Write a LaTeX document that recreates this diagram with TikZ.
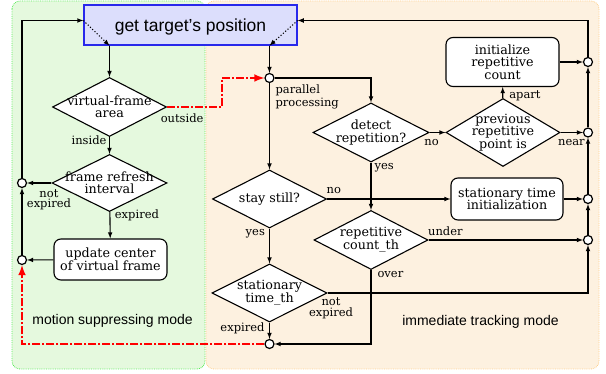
\documentclass[tikz,border=0pt]{standalone}
\usepackage{fontspec}
\setmainfont{DejaVu Serif}
\setsansfont{Liberation Sans}
\usepackage{tikz}
\usetikzlibrary{shapes.geometric, positioning, arrows, calc}

\definecolor{zonegreen}{RGB}{229,249,222}
\definecolor{zonegreenline}{RGB}{90,235,90}
\definecolor{zoneorange}{RGB}{253,241,224}
\definecolor{zoneorangeline}{RGB}{255,208,140}
\definecolor{targetfill}{RGB}{220,222,252}
\definecolor{targetline}{RGB}{40,40,235}

\newcommand{\boxfont}{\fontsize{12.7}{12.5}\selectfont}
\newcommand{\lblfont}{\fontsize{11.5}{10.6}\selectfont}

\tikzset{
  decision/.style={diamond, draw, line width=1.1pt, fill=white, align=center,
    aspect=2, inner xsep=-6pt, inner ysep=-3pt, minimum width=114pt,
    minimum height=59pt, font=\boxfont},
  process/.style={rectangle, rounded corners=7pt, draw, line width=1.1pt,
    fill=white, align=center, minimum width=113pt, minimum height=41pt,
    inner sep=2pt, font=\boxfont},
  junction/.style={circle, draw, line width=1.2pt, fill=white,
    inner sep=0pt, minimum size=9pt},
  lbl/.style={font=\lblfont, text=black, inner sep=1pt, pos=0},
  flow/.style={line width=1.1pt, ->},
  jump/.style={red, line width=2.4pt, dash pattern=on 8pt off 2pt on 2pt off 2pt, ->},
}

\begin{document}
\begin{tikzpicture}[x=1pt, y=-1pt, >=latex]
    \useasboundingbox (0,0) rectangle (606,374);

    % the two modes
    \draw[zonegreenline, fill=zonegreen, densely dotted, line width=0.8pt, rounded corners=8pt] (12,1) rectangle (205,369);
    \draw[zoneorangeline, fill=zoneorange, densely dotted, line width=0.8pt, rounded corners=8pt] (206,1) rectangle (599,369);

    \node[draw=targetline, fill=targetfill, line width=1.3pt, minimum width=213pt, minimum height=40pt,
      text depth=0pt, font=\sffamily\fontsize{17.5}{20}\selectfont] (T) at (190.5,25) {get target’s position};

    % motion suppressing mode
    \node[decision] (VF) at (109.5,107) {virtual-frame\\area};
    \node[decision, minimum width=115pt, minimum height=57pt] (FR) at (109.5,183) {frame refresh\\interval};
    \node[process] (UC) at (110.5,259.5) {update center\\of virtual frame};
    \node[junction] (C1) at (22,183) {};
    \node[junction] (C2) at (22,260) {};

    % immediate tracking mode
    \node[junction] (P) at (269.5,78) {};
    \node[decision, minimum width=116pt] (DR) at (371,132.5) {detect\\repetition?};
    \node[decision, aspect=1.7, minimum height=68pt] (PR) at (503,132.5) {previous\\repetitive\\point is};
    \node[process, minimum height=49pt] (IR) at (502.5,62) {initialize\\repetitive\\count};
    \node[decision, minimum height=58pt] (SS) at (269.5,199) {stay still?};
    \node[process, minimum width=112pt, minimum height=42pt] (ST) at (507,199) {stationary time\\initialization};
    \node[decision] (RC) at (371,240) {repetitive\\count\_th};
    \node[decision, minimum width=115pt, minimum height=58pt] (STH) at (269.5,293) {stationary\\time\_th};
    \node[junction] (B) at (269.5,344) {};
    \node[junction] (R1) at (588,62) {};
    \node[junction] (R2) at (588,132.5) {};
    \node[junction] (R3) at (588,199) {};
    \node[junction] (R4) at (588,240) {};

    \node[font=\sffamily\fontsize{14}{16}\selectfont] (MS) at (112.5,321) {motion suppressing mode};
    \node[font=\sffamily\fontsize{14}{16}\selectfont] (IT) at (480.5,322) {immediate tracking mode};

    \coordinate (inL) at ([yshift=4.5pt]T.west);
    \coordinate (inR) at ([yshift=4.5pt]T.east);
    \coordinate (jog) at (222,107);

    \draw[flow] (T.south -| VF) -- (VF);
    \draw[flow] (T.south -| P) -- (P);
    \draw[flow, dotted] (inL) -- (T.south -| VF);
    \draw[flow, dotted] (inR) -- (T.south -| P);

    \draw[flow] (VF) -- node[lbl, anchor=base east, xshift=-1.5pt, yshift=-7.5pt] {inside} (FR);
    \draw[flow] (FR) -- node[lbl, anchor=base west, xshift=3.5pt, yshift=-7pt] {expired} (UC);
    \draw[flow] (FR) -- node[lbl, anchor=north, align=center, xshift=-2.5pt, yshift=-4.8pt] {not\\expired} (C1);
    \draw[flow] (UC) -- (C2);
    \draw[flow] (C2) -- (C1);
    \draw[flow] (C1) |- (inL);

    \draw[jump] (VF) -- node[lbl, anchor=base west, xshift=-8.5pt, yshift=-15.5pt] {outside} (VF -| jog) |- (P);
    \draw[jump] (B) -| (C2);

    \draw[flow] (P) -| (DR);
    \draw[flow] (P) -- node[lbl, anchor=north west, align=left, xshift=4.5pt, yshift=-0.3pt] {parallel\\[1pt]processing} (SS);
    \draw[flow] (DR) -- node[lbl, anchor=base, xshift=2pt, yshift=-13.5pt] {no} (PR);
    \draw[flow] (DR) -- node[lbl, anchor=base west, xshift=2pt, yshift=-6.5pt] {yes} (RC);
    \draw[flow] (PR) -- node[lbl, anchor=base west, xshift=5pt, yshift=-0.5pt] {apart} (IR);
    \draw[flow] (PR) -- node[lbl, anchor=base west, xshift=-4pt, yshift=-13pt] {near} (R2);
    \draw[flow] (IR) -- (R1);
    \draw[flow] (SS) -- node[lbl, anchor=base west, xshift=-2pt, yshift=5pt] {no} (ST);
    \draw[flow] (SS) -- node[lbl, anchor=base east, xshift=-3pt, yshift=-6.5pt] {yes} (STH);
    \draw[flow] (ST) -- (R3);
    \draw[flow] (RC) -- node[lbl, anchor=base west, xshift=-2pt, yshift=4pt] {under} (R4);
    \draw[flow] (RC) |- node[lbl, anchor=base west, xshift=5pt, yshift=-7.5pt] {over} (B);
    \draw[flow] (STH) -- node[lbl, anchor=base east, xshift=-3.5pt, yshift=-8.5pt] {expired} (B);
    \draw[flow] (STH) -| node[lbl, anchor=north, align=center, xshift=3.5pt, yshift=-3.2pt] {not\\expired} (R4);
    \draw[flow] (R4) -- (R3);
    \draw[flow] (R3) -- (R2);
    \draw[flow] (R2) -- (R1);
    \draw[flow] (R1) |- (inR);
\end{tikzpicture}
\end{document}
